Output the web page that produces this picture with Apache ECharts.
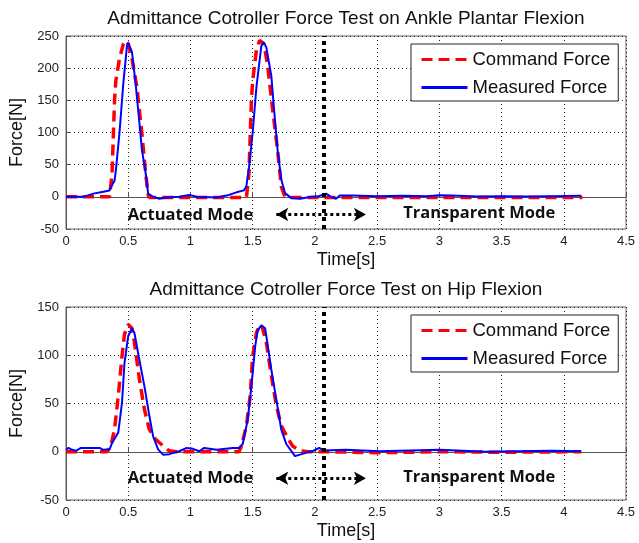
<!DOCTYPE html>
<html>
<head>
<meta charset="utf-8">
<script src="https://cdn.jsdelivr.net/npm/echarts@6/dist/echarts.min.js"></script>
<style>
  html, body { margin: 0; padding: 0; background: #fff; }
  #chart { width: 639px; height: 543px; }
</style>
</head>
<body>
<div id="chart"></div>
<script>
    // [time s, force N]
    var ankleCommand = [
        [0,0],[0.35,0],[0.36,0],[0.37,36],[0.39,150],[0.40,180],[0.43,215],[0.46,237],[0.48,243],
        [0.50,238],[0.53,215],[0.57,170],[0.61,98],[0.64,37],[0.66,3],[0.67,-1],[1.0,-1],[1.45,-1],
        [1.46,0],[1.47,36],[1.49,150],[1.50,180],[1.53,228],[1.555,243],[1.59,238],[1.62,205],
        [1.66,137],[1.70,73],[1.73,16],[1.76,0],[1.80,-1],[3.0,-1],[4.15,-1]
    ];
    var ankleMeasured = [
        [0,0],[0.14,0],[0.22,5],[0.30,8],[0.35,10],[0.36,15],[0.39,25],[0.40,40],[0.43,100],[0.46,175],
        [0.49,235],[0.50,239],[0.53,225],[0.56,175],[0.58,135],[0.61,73],[0.64,37],[0.66,5],[0.70,0],
        [0.75,-3],[0.81,-1],[0.91,0],[0.99,3],[1.05,0],[1.21,-1],[1.31,3],[1.37,7],[1.43,10],[1.45,17],
        [1.47,45],[1.50,100],[1.53,170],[1.57,235],[1.59,240],[1.61,232],[1.65,188],[1.67,140],[1.70,73],
        [1.73,27],[1.76,6],[1.81,-2],[1.88,-3],[1.97,0],[2.03,1],[2.09,5],[2.13,0],[2.17,-3],[2.20,2],
        [2.30,2],[2.50,1],[2.70,1.5],[2.90,1],[3.00,2.5],[3.10,2],[3.30,0.5],[3.50,1],[3.70,0.5],[3.90,1],[4.14,1.5]
    ];
    var hipCommand = [
        [0,0],[0.33,0],[0.36,6],[0.39,23],[0.42,58],[0.45,99],[0.47,122],[0.50,132],[0.53,128],[0.55,113],
        [0.59,75],[0.63,44],[0.67,23],[0.72,13],[0.78,6],[0.83,1],[0.89,0],[1.39,0],[1.41,6],[1.45,27],
        [1.48,58],[1.50,99],[1.53,123],[1.56,132],[1.58,128],[1.61,113],[1.65,79],[1.69,48],[1.73,27],
        [1.77,17],[1.82,6],[1.88,1],[1.95,0],[2.10,0],[2.50,-1],[3.00,0],[3.50,-0.5],[4.14,0]
    ];
    var hipMeasured = [
        [0,2],[0.02,4],[0.05,2],[0.08,1],[0.12,4],[0.27,4],[0.30,2],[0.35,2.5],[0.37,9],[0.42,20],[0.45,51],
        [0.47,92],[0.50,120],[0.53,128],[0.55,123],[0.59,95],[0.63,68],[0.67,37],[0.70,16],[0.74,2.5],
        [0.78,-3],[0.83,-2.5],[0.91,0.5],[0.97,4],[1.02,3],[1.07,0.5],[1.11,4],[1.21,2],[1.34,4],[1.39,4],
        [1.42,8],[1.46,33],[1.49,68],[1.52,109],[1.54,126],[1.57,131],[1.60,128],[1.62,111],[1.65,85],
        [1.69,54],[1.73,23],[1.77,8],[1.81,1],[1.84,-4.5],[1.88,-3],[1.94,-0.5],[1.98,0.5],[2.035,4],
        [2.07,1.4],[2.25,2],[2.52,0.5],[3.00,2],[3.37,0],[3.90,1],[4.14,0.5]
    ];

    var titles = ['Admittance Cotroller Force Test on Ankle Plantar Flexion', 'Admittance Cotroller Force Test on Hip Flexion'];
    var seriesNames = ['Command Force', 'Measured Force'];
    var yRanges = [[-50, 250], [-50, 150]];
    var switchTime = 2.07;          // vertical dotted line
    var arrowSpan = [1.69, 2.41];   // double arrow
    var modeLabels = [['Actuated Mode', 1.0, -28], ['Transparent Mode', 3.32, -26]];
    var arrowY = -27.5;

    var chart = echarts.init(document.getElementById('chart'));
    var font = 'Liberation Sans, Arial, sans-serif';
    var gridTops = [36, 307];

    function makeXAxis(i){
        return {
            gridIndex: i, type: 'value', min: 0, max: 4.5, interval: 0.5,
            name: 'Time[s]', nameLocation: 'middle', nameGap: 22,
            nameTextStyle: { fontFamily: font, fontSize: 18, color: '#111' },
            axisLine: { show: true, lineStyle: { color: '#555' } },
            axisTick: { show: true, inside: true, length: 5, lineStyle: { color: '#555' } },
            axisLabel: { fontFamily: font, fontSize: 13, color: '#222', margin: 6 },
            splitLine: { show: true, lineStyle: { color: '#222', type: [1, 3], width: 1 } }
        };
    }
    function makeYAxis(i){
        return {
            gridIndex: i, type: 'value', min: yRanges[i][0], max: yRanges[i][1], interval: 50,
            name: 'Force[N]', nameLocation: 'middle', nameGap: 37,
            nameTextStyle: { fontFamily: font, fontSize: 18, color: '#111' },
            axisLine: { show: true, lineStyle: { color: '#555' } },
            axisTick: { show: true, inside: true, length: 5, lineStyle: { color: '#555' } },
            axisLabel: { fontFamily: font, fontSize: 13, color: '#222', margin: 7 },
            splitLine: { show: true, lineStyle: { color: '#222', type: [1, 3], width: 1 } }
        };
    }
    function makeSeries(i, cmd, meas){
        return [{
            name: seriesNames[0], type: 'line', xAxisIndex: i, yAxisIndex: i,
            data: cmd, showSymbol: false, symbol: 'none', animation: false,
            lineStyle: { color: '#ff0000', width: 3.5, type: [11, 6] },
            itemStyle: { color: '#ff0000' },
            markLine: {
                silent: true, animation: false, symbol: 'none',
                label: { show: false },
                lineStyle: { color: '#000', type: 'dotted', width: 4 },
                data: [{ xAxis: switchTime }]
            }
        }, {
            name: seriesNames[1], type: 'line', xAxisIndex: i, yAxisIndex: i,
            data: meas, showSymbol: false, symbol: 'none', animation: false, z: 3,
            lineStyle: { color: '#0000ff', width: 2 },
            itemStyle: { color: '#0000ff' },
            markLine: {
                silent: true, animation: false,
                symbol: ['arrow', 'arrow'], symbolSize: [10, 12],
                label: { show: false },
                lineStyle: { color: '#000', type: 'dotted', width: 3 },
                data: [[{ coord: [arrowSpan[0], arrowY] }, { coord: [arrowSpan[1], arrowY] }]]
            },
            markPoint: {
                silent: true, animation: false, symbol: 'circle', symbolSize: 0,
                label: {
                    show: true, position: 'inside', formatter: '{b}',
                    fontFamily: 'Open Sans, sans-serif', fontWeight: 'bold', fontSize: 16.5, color: '#111'
                },
                data: modeLabels.map(function(m){ return { name: m[0], coord: [m[1], m[2]] }; })
            }
        }];
    }

    var option = {
        backgroundColor: '#fff',
        animation: false,
        title: titles.map(function(t, i){
            return {
                text: t, left: 346, textAlign: 'center', top: gridTops[i] - 27, padding: 0,
                textStyle: { fontFamily: font, fontSize: 19, fontWeight: 'normal', color: '#111' }
            };
        }),
        legend: gridTops.map(function(top){
            return {
                data: seriesNames, orient: 'vertical', left: 411, top: top + 8,
                itemWidth: 46, itemHeight: 14, itemGap: 9,
                padding: [6, 8, 4, 9],
                itemStyle: { opacity: 0 },
                lineStyle: { width: 3 },
                borderColor: '#222', borderWidth: 1, borderRadius: 0, backgroundColor: '#fff',
                textStyle: { fontFamily: font, fontSize: 18.5, color: '#111' },
                selectedMode: false
            };
        }),
        grid: gridTops.map(function(top){
            return { left: 66, width: 560, top: top, height: 193, show: true, borderColor: '#666', borderWidth: 1 };
        }),
        xAxis: [makeXAxis(0), makeXAxis(1)],
        yAxis: [makeYAxis(0), makeYAxis(1)],
        series: makeSeries(0, ankleCommand, ankleMeasured).concat(makeSeries(1, hipCommand, hipMeasured))
    };
    chart.setOption(option);
</script>
</body>
</html>
